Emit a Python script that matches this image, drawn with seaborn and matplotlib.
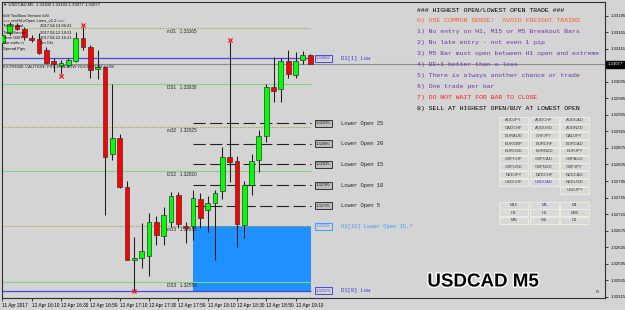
import numpy as np
import pandas as pd
import matplotlib
matplotlib.use("Agg")
import matplotlib.pyplot as plt
import seaborn as sns
from matplotlib.patches import Rectangle
from matplotlib.transforms import blended_transform_factory
import matplotlib.patheffects as pe

sns.set_style("white")
plt.rcParams["font.family"] = ["Liberation Sans", "DejaVu Sans"]

# ---------------- data ----------------
bar_times = ["15:50", "15:55", "16:00", "16:05", "16:10", "16:15", "16:20", "16:25", "16:30", "16:35",
             "16:40", "16:45", "16:50", "16:55", "17:00", "17:05", "17:10", "17:15", "17:20", "17:25",
             "17:30", "17:35", "17:40", "17:45", "17:50", "17:55", "18:00", "18:05", "18:10", "18:15",
             "18:20", "18:25", "18:30", "18:35", "18:40", "18:45", "18:50", "18:55", "19:00", "19:05",
             "19:10", "19:15", "19:20"]
opens = [1.33129, 1.33153, 1.33172, 1.33164, 1.33142, 1.33138, 1.33112, 1.33085, 1.33074, 1.33076,
         1.33085, 1.33140, 1.33120, 1.33065, 1.33070, 1.32860, 1.32898, 1.32780, 1.32605, 1.32609,
         1.32614, 1.32697, 1.32663, 1.32696, 1.32762, 1.32686, 1.32685, 1.32751, 1.32725, 1.32742,
         1.32772, 1.32852, 1.32843, 1.32689, 1.32785, 1.32846, 1.32904, 1.33023, 1.33017, 1.33085,
         1.33051, 1.33088, 1.33100]
highs = [1.33153, 1.33180, 1.33177, 1.33168, 1.33148, 1.33153, 1.33119, 1.33093, 1.33088, 1.33093,
         1.33156, 1.33168, 1.33124, 1.33112, 1.33073, 1.33030, 1.32909, 1.32795, 1.32659, 1.32693,
         1.32717, 1.32710, 1.32733, 1.32769, 1.32769, 1.32696, 1.32773, 1.32765, 1.32759, 1.32773,
         1.32878, 1.33131, 1.32856, 1.32795, 1.32860, 1.32918, 1.33030, 1.33096, 1.33092, 1.33112,
         1.33106, 1.33110, 1.33103]
lows = [1.33122, 1.33148, 1.33160, 1.33136, 1.33131, 1.33102, 1.33078, 1.33059, 1.33054, 1.33071,
        1.33083, 1.33112, 1.33044, 1.33042, 1.32713, 1.32846, 1.32778, 1.32604, 1.32529, 1.32584,
        1.32565, 1.32640, 1.32640, 1.32684, 1.32681, 1.32644, 1.32652, 1.32681, 1.32672, 1.32604,
        1.32751, 1.32793, 1.32636, 1.32657, 1.32761, 1.32818, 1.32890, 1.32987, 1.32987, 1.33044,
        1.33044, 1.33077, 1.33077]
closes = [1.33148, 1.33175, 1.33164, 1.33143, 1.33136, 1.33105, 1.33080, 1.33077, 1.33081, 1.33088,
          1.33140, 1.33120, 1.33064, 1.33071, 1.32852, 1.32898, 1.32780, 1.32605, 1.32608, 1.32626,
          1.32697, 1.32664, 1.32712, 1.32759, 1.32690, 1.32682, 1.32753, 1.32705, 1.32742, 1.32765,
          1.32854, 1.32842, 1.32691, 1.32785, 1.32843, 1.32904, 1.33023, 1.33013, 1.33085, 1.33053,
          1.33086, 1.33100, 1.33077]

level_names = ["m31", "DS1", "m32", "DS2", "m33", "DS3"]
level_prices = [1.33165, 1.33030, 1.32925, 1.32820, 1.32685, 1.32550]
level_kinds = ["m", "DS", "m", "DS", "m", "DS"]

lower_open_names = ["Lower Open 25", "Lower Open 20", "Lower Open 15", "Lower Open 10", "Lower Open 5"]
lower_open_prices = [1.32935, 1.32885, 1.32835, 1.32785, 1.32735]

h1_open = 1.32685
h1_label = "H1[16] Lower Open 15.7"
d1_prev_low = 1.33092
d1_low = 1.32529
bid = 1.33077
h1_start_bar = 26

fractal_bars = [8, 11, 18, 31]
fractal_prices = [1.33049, 1.33172, 1.32528, 1.33136]

xtick_bars = [0, 4, 8, 12, 16, 20, 24, 28, 32, 36, 40]
xtick_labels = ["11 Apr 2017", "12 Apr 16:10", "12 Apr 16:30", "12 Apr 16:50", "12 Apr 17:10",
                "12 Apr 17:30", "12 Apr 17:50", "12 Apr 18:10", "12 Apr 18:30", "12 Apr 18:50",
                "12 Apr 19:10"]
ytick_prices = [1.32515, 1.32555, 1.32595, 1.32635, 1.32675, 1.32715, 1.32755, 1.32795, 1.32835,
                1.32875, 1.32915, 1.32955, 1.32995, 1.33035, 1.33115, 1.33155, 1.33195]

rules = ["### HIGHEST OPEN/LOWEST OPEN TRADE ###",
         "0) USE COMMON SENSE!  AVOID FREIGHT TRAINS",
         "1) No entry on H1, M15 or M5 Breakout Bars",
         "2) No late entry - not even 1 pip",
         "3) M5 Bar must open between H1 open and extreme",
         "4) BE+1 better than a loss",
         "5) There is always another chance or trade",
         "6) One trade per bar",
         "7) DO NOT WAIT FOR BAR TO CLOSE",
         "8) SELL AT HIGHEST OPEN/BUY AT LOWEST OPEN"]
rule_colors = ["#000000", "#ff5a28", "#6a35a8", "#6a35a8", "#6a35a8", "#6a35a8",
               "#6a35a8", "#6a35a8", "#ff1818", "#000000"]

symbol_grid = [["AUDJPY", "AUDCHF", "AUDCAD"],
               ["CADCHF", "AUDUSD", "AUDNZD"],
               ["EURAUD", "CHFJPY", "CADJPY"],
               ["EURGBP", "EURCHF", "EURCAD"],
               ["EURUSD", "EURNZD", "EURJPY"],
               ["GBPCHF", "GBPCAD", "GBPAUD"],
               ["GBPUSD", "GBPNZD", "GBPJPY"],
               ["NZDJPY", "NZDCHF", "NZDCAD"],
               ["USDCHF", "USDCAD", "NZDUSD"],
               ["", "", "USDJPY"]]
tf_grid = [["M15", "M5", "M1"], ["H4", "H1", "M30"], ["MN", "W1", "D1"]]

info_labels = ["### TooSlow Version ###", "=== amHiLoOpen Lines_v1.2 ===", "Time Local",
               "Time Server", "Time GMT", "Bar ends in", "Spread Pips"]
info_values = ["", "", "2017.04.13 06:21", "2017.04.12 19:21", "2017.04.12 16:21", "3m 13s", ""]

# ---------------- figure ----------------
W, H = 625, 310
BG = "#d4d4d4"
fig = plt.figure(figsize=(W / 100, H / 100), dpi=100, facecolor=BG)
ax = fig.add_axes([2 / W, (H - 298) / H, 603 / W, 296 / H])
ax.set_facecolor(BG)

df = pd.DataFrame({"time": bar_times, "o": opens, "h": highs, "l": lows, "c": closes})
df["x"] = np.arange(len(df))
n = len(df)
line_end = n - 1 + 0.1
xl = (-0.05, -0.05 + 603 / 7.33)
ax.set_xlim(*xl)
ax.set_ylim(1.325119, 1.332282)

# blue H1 open -> D1 low zone
ax.fill_between([h1_start_bar, line_end], d1_low, h1_open, color="#1e90ff", lw=0, zorder=1)

# pivot style levels
for name, p, k in zip(level_names, level_prices, level_kinds):
    if k == "m":
        ax.hlines(p, xl[0], line_end, colors="#a8a83c", lw=0.8, linestyles=(0, (1.2, 1.2)), zorder=2)
    else:
        ax.hlines(p, xl[0], line_end, colors="#7ed47e", lw=0.8, zorder=2)
    ax.annotate(f"{name}   {p:.5f}", xy=(22.4, p), xytext=(0, -1), textcoords="offset pixels",
                fontsize=3.3, color="#202020", va="top", ha="left", zorder=2)

# D1 lows
for p in [d1_prev_low, d1_low]:
    ax.hlines(p, xl[0], line_end, colors="#4646f0", lw=0.9, zorder=2)

# bid line
ax.axhline(bid, color="#8c8c8c", lw=0.8, zorder=2)

# lower open dashed lines
for name, p in zip(lower_open_names, lower_open_prices):
    ax.hlines(p, h1_start_bar, line_end, colors="#222222", lw=0.8, linestyles=(0, (11, 4)), zorder=2)


# right-side labels
def side_label(price, name, col, boxfc, boxec, txtcol):
    ax.annotate(f"{price:.5f}", xy=(line_end, price), xytext=(5, 0), textcoords="offset pixels",
                fontsize=3.0, color=txtcol, va="center", ha="left", zorder=6,
                bbox=dict(boxstyle="square,pad=0.35", fc=boxfc, ec=boxec, lw=0.7))
    ax.annotate(name, xy=(line_end, price), xytext=(30, 0), textcoords="offset pixels",
                fontsize=4.0, color=col, va="center", ha="left", family="Liberation Mono", zorder=6)


for name, p in zip(lower_open_names, lower_open_prices):
    side_label(p, name, "#202020", "#bdbdbd", "#333333", "#202020")
side_label(d1_prev_low, "D1[1] Low", "#3a3ae0", "#d4d4d4", "#4646f0", "#4646f0")
side_label(h1_open, h1_label, "#3a9cff", "#d4d4d4", "#3a9cff", "#3a9cff")
side_label(d1_low, "D1[0] Low", "#3a3ae0", "#d4d4d4", "#4646f0", "#4646f0")

# candles
body_lo = np.minimum(df.o, df.c)
body_h = np.maximum((df.c - df.o).abs(), 0.000015)
colors = np.where(df.c >= df.o, "#00ff00", "#ff0000")
ax.vlines(df.x, df.l, df.h, colors="#1c1c1c", lw=0.75, zorder=3)
ax.bar(df.x, body_h, bottom=body_lo, width=0.66, color=colors, edgecolor="#2a2a2a", lw=0.45, zorder=4)

# fractal markers
sns.scatterplot(x=fractal_bars, y=fractal_prices, marker="x", color="#ff1a1a", s=9, linewidth=0.9,
                ax=ax, zorder=5, legend=False)

# axes styling
for s in ax.spines.values():
    s.set_color("#303030")
    s.set_linewidth(0.8)
ax.yaxis.tick_right()
ax.set_yticks(ytick_prices)
ax.set_yticklabels([f"{p:.5f}" for p in ytick_prices])
ax.set_xticks(xtick_bars)
ax.set_xticklabels(xtick_labels)
for lab in ax.get_xticklabels():
    lab.set_ha("left")
ax.tick_params(axis="y", length=2.5, width=0.5, pad=1.2, labelsize=3.1, colors="black",
               left=False, right=True)
ax.tick_params(axis="x", length=2.5, width=0.5, pad=1.0, labelsize=3.4, colors="black", bottom=True)
ax.set_xlabel("")
ax.set_ylabel("")

tr = blended_transform_factory(ax.transAxes, ax.transData)
ax.text(1.004, bid, f"{bid:.5f}", transform=tr, ha="left", va="center", fontsize=3.1, color="white",
        bbox=dict(boxstyle="square,pad=0.4", fc="black", ec="black"), zorder=10, clip_on=False)


# ---------------- overlay texts (pixel placement) ----------------
def ftext(px, py, s, **kw):
    fig.text(px / W, 1 - py / H, s, **kw)


ftext(3, 5, "\u25bc USDCAD,M5  1.33100 1.33103 1.33077 1.33077", fontsize=3.1, va="center", ha="left",
      color="#101010")
info_y = [15.7, 20.8, 26.2, 32.5, 38, 43.3, 48.8]
for lab, val, yy in zip(info_labels, info_values, info_y):
    ftext(3, yy, lab, fontsize=3.0, va="center", ha="left", color="#101010", zorder=8)
    if val:
        ftext(40, yy, val, fontsize=3.0, va="center", ha="left", color="#101010", zorder=8)
ftext(3, 66.5, "EXTREME CAUTION! PRICE BELOW YESTERDAY LOW", fontsize=3.1, va="center", ha="left",
      color="#202020", zorder=8)

for i, (r, c) in enumerate(zip(rules, rule_colors)):
    ftext(417, 10 + 10.9 * i, r, fontsize=4.65, va="center", ha="left", color=c,
          family="Liberation Mono", zorder=8)

col_x = [499, 529.5, 560]
bw, bh = 29, 7


def button(px, py, label):
    fig.patches.append(Rectangle((px / W, 1 - (py + bh) / H), bw / W, bh / H, transform=fig.transFigure,
                                 fc="#d9d9d9", ec="#ededdd", lw=0.7, zorder=7))
    col = "#2a2aff" if label in ("USDCAD", "M5") else "#3a3a3a"
    ftext(px + bw / 2, py + bh / 2, label, fontsize=3.0, ha="center", va="center", color=col, zorder=8)


for r, row in enumerate(symbol_grid):
    for c, s in enumerate(row):
        if s:
            button(col_x[c], 116.7 + 7.78 * r, s)
for r, row in enumerate(tf_grid):
    for c, s in enumerate(row):
        button(col_x[c], 201.7 + 7.6 * r, s)

ftext(483, 282, "USDCAD M5", fontsize=13.5, fontweight="bold", family=["Liberation Sans", "DejaVu Sans"],
      ha="center", va="center", color="black", zorder=9,
      path_effects=[pe.withStroke(linewidth=2, foreground="white")])
ftext(599, 290, "58", fontsize=2.8, rotation=90, ha="center", va="center", color="#404040")

fig.savefig("out.png", dpi=100, facecolor=BG)
